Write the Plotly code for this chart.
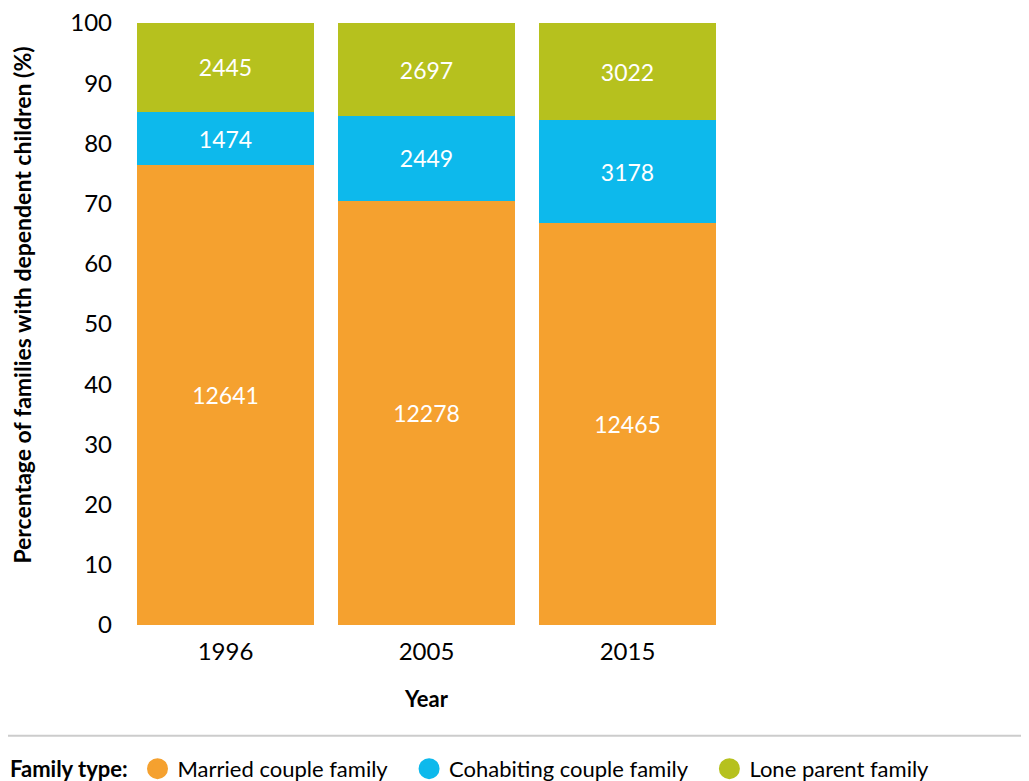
import plotly.graph_objects as go

YEARS = ["1996", "2005", "2015"]
MARRIED = [12641, 12278, 12465]
COHABITING = [1474, 2449, 3178]
LONE_PARENT = [2445, 2697, 3022]
Y_TICKS = [0, 10, 20, 30, 40, 50, 60, 70, 80, 90, 100]

SERIES = [
    ("Married couple family", MARRIED, "#F5A12F"),
    ("Cohabiting couple family", COHABITING, "#0DB9EC"),
    ("Lone parent family", LONE_PARENT, "#B6C11E"),
]
FONT = "Lato, Open Sans, sans-serif"
PAD = "\u00a0" * 3  # extra room between legend entries

fig = go.Figure()
for name, values, color in SERIES:
    fig.add_trace(go.Bar(
        x=YEARS, y=values, name=name,
        marker=dict(color=color, line=dict(width=0)),
        text=[str(v) for v in values],
        textposition="inside", insidetextanchor="middle",
        textfont=dict(color="white", size=23, family=FONT),
        hoverinfo="x+y+name",
        showlegend=False,
    ))
    # circle swatches for the legend
    fig.add_trace(go.Scatter(
        x=[None], y=[None], mode="markers", name=name + PAD,
        marker=dict(color=color, size=16, symbol="circle",
                    line=dict(color=color, width=5)),
    ))

# page body adds an 8px offset, so the figure is drawn 8px smaller
fig.update_layout(
    barmode="stack", barnorm="percent", bargap=0.12,
    width=1021, height=773, autosize=False,
    plot_bgcolor="white", paper_bgcolor="white",
    font=dict(family=FONT, color="black", size=24),
    margin=dict(l=117, r=301, t=15, b=156, autoexpand=False),
    uniformtext=dict(minsize=10, mode="show"),
    legend=dict(
        orientation="h", x=1.369, xanchor="right", y=-0.239, yanchor="middle",
        traceorder="normal",
        font=dict(size=22, family=FONT), itemsizing="trace",
        itemwidth=30, tracegroupgap=0,
    ),
    shapes=[dict(type="line", xref="paper", yref="paper",
                 x0=-0.2, x1=1.5, y0=-0.184, y1=-0.184,
                 line=dict(color="#cccccc", width=2))],
    annotations=[
        dict(text="<b>Family type:</b>", xref="paper", yref="paper",
             x=-0.194, y=-0.239, xanchor="left", yanchor="middle",
             showarrow=False, font=dict(size=22, family=FONT)),
        dict(text="<b>Percentage of families with dependent children (%)</b>",
             xref="paper", yref="paper", x=-0.171, y=0.532, textangle=-90,
             xanchor="center", yanchor="middle", showarrow=False,
             font=dict(size=23, family=FONT)),
    ],
)
fig.update_xaxes(
    title=dict(text="<b>Year</b>", font=dict(size=22), standoff=27),
    showgrid=False, showline=False, ticks="", ticklabelstandoff=10,
    tickfont=dict(size=24),
)
fig.update_yaxes(
    range=[0, 100], tickvals=Y_TICKS, showgrid=False, zeroline=False,
    showline=False, ticks="", ticklabelstandoff=12, tickfont=dict(size=24),
    ticklabeloverflow="allow",
)

fig.write_html("out.html")
